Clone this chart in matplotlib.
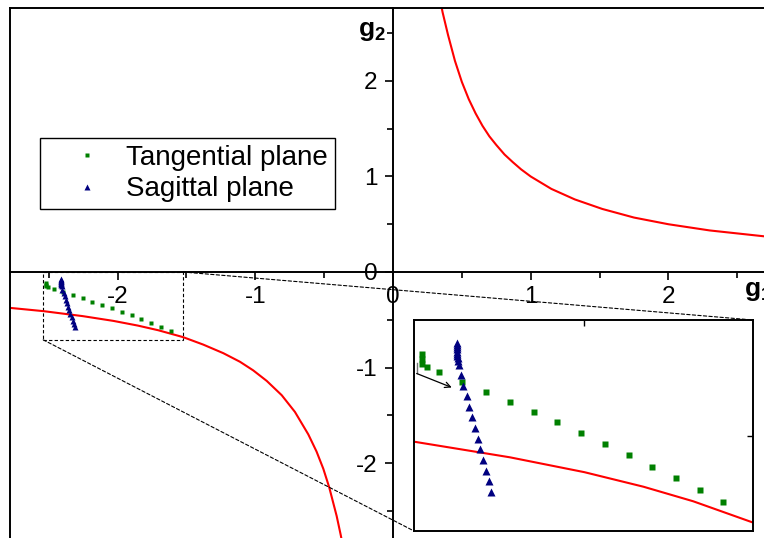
import matplotlib
matplotlib.use("Agg")
import matplotlib.pyplot as plt
from matplotlib.patches import Rectangle, ConnectionPatch
from matplotlib.ticker import MultipleLocator

plt.rcParams['font.family'] = ['Liberation Sans', 'DejaVu Sans']
plt.rcParams['mathtext.fontset'] = 'custom'
plt.rcParams['mathtext.rm'] = 'Liberation Sans'
plt.rcParams['mathtext.bf'] = 'Liberation Sans:bold'
plt.rcParams['axes.unicode_minus'] = False

# Stability boundary g1*g2 = 1, both branches
upper_g1 = [0.32, 0.34, 0.36, 0.40, 0.45, 0.50, 0.55, 0.60, 0.65, 0.70, 0.75,
            0.81, 0.87, 0.93, 1.0, 1.15, 1.32, 1.52, 1.75, 2.0, 2.3, 2.75]
upper_g2 = [3.05, 2.87, 2.72, 2.48, 2.21, 1.99, 1.81, 1.66, 1.53, 1.42, 1.33,
            1.23, 1.15, 1.075, 1.0, 0.87, 0.76, 0.66, 0.57, 0.50, 0.435, 0.365]
lower_g1 = [-2.80, -2.537, -2.253, -2.03, -1.853, -1.704, -1.524, -1.378, -1.232,
            -1.111, -1.015, -0.917, -0.808, -0.712, -0.615, -0.555, -0.506,
            -0.463, -0.409, -0.380, -0.365]
lower_g2 = [-0.373, -0.410, -0.462, -0.512, -0.561, -0.610, -0.682, -0.760, -0.850,
            -0.940, -1.030, -1.140, -1.290, -1.465, -1.700, -1.880, -2.060,
            -2.255, -2.555, -2.750, -2.86]

# Tangential plane
tan_g1 = [-2.517, -2.517, -2.517, -2.502, -2.465, -2.395, -2.324, -2.253, -2.182,
          -2.111, -2.040, -1.969, -1.897, -1.827, -1.756, -1.685, -1.615]
tan_g2 = [-0.115, -0.132, -0.148, -0.159, -0.176, -0.208, -0.241, -0.275, -0.309,
          -0.344, -0.380, -0.416, -0.455, -0.493, -0.532, -0.572, -0.614]

# Sagittal plane
sag_g1 = [-2.412, -2.412, -2.412, -2.412, -2.411, -2.411, -2.410, -2.409, -2.408,
          -2.406, -2.400, -2.392, -2.382, -2.374, -2.366, -2.357, -2.349, -2.342,
          -2.334, -2.324, -2.316, -2.309]
sag_g2 = [-0.078, -0.085, -0.092, -0.099, -0.106, -0.113, -0.120, -0.128, -0.137,
          -0.150, -0.185, -0.221, -0.256, -0.292, -0.328, -0.363, -0.400, -0.435,
          -0.471, -0.508, -0.543, -0.580]

zoom_x = (-2.54, -1.525)
zoom_y = (-0.71, 0.0)

GREEN = '#008000'
NAVY = '#000080'
RED = '#ff0000'

fig = plt.figure(figsize=(7.64, 5.38), dpi=100)
ax = fig.add_axes([10 / 764, 0, 754 / 764, 530 / 538])
ax.set_xlim(-2.781, 2.694)
ax.set_ylim(-2.785, 2.764)

ax.plot(upper_g1, upper_g2, color=RED, lw=1.5)
ax.plot(lower_g1, lower_g2, color=RED, lw=1.5)
h_tan, = ax.plot(tan_g1, tan_g2, 's', color=GREEN, ms=3.3, mec='none',
                 label='Tangential plane')
h_sag, = ax.plot(sag_g1, sag_g2, '^', color=NAVY, ms=4, mec='none',
                 label='Sagittal plane')

# axes through the origin, frame on left and top
ax.spines['left'].set_position(('data', 0))
ax.spines['bottom'].set_position(('data', 0))
ax.spines['right'].set_visible(False)
for s in ['left', 'bottom', 'top']:
    ax.spines[s].set_linewidth(1.4)
ax.plot([0, 0], [0, 1], transform=ax.transAxes, color='k', lw=1.4,
        clip_on=False)
ax.xaxis.set_ticks_position('bottom')
ax.yaxis.set_ticks_position('left')
ax.xaxis.set_major_locator(MultipleLocator(1))
ax.xaxis.set_minor_locator(MultipleLocator(0.5))
ax.yaxis.set_major_locator(MultipleLocator(1))
ax.yaxis.set_minor_locator(MultipleLocator(0.5))
ax.tick_params(which='major', direction='out', length=6, width=1.2,
               labelsize=17.5)
ax.tick_params(which='minor', direction='out', length=4, width=1.2)
ax.tick_params(axis='x', pad=4)
ax.tick_params(axis='y', pad=5)

ax.text(-0.05, 2.52, r'$\mathbf{g}_\mathbf{2}$', fontsize=19,
        ha='right', va='center')
ax.text(2.55, -0.2, r'$\mathbf{g}_\mathbf{1}$', fontsize=19,
        ha='left', va='center', clip_on=False)

# zoom box and connectors
ax.add_patch(Rectangle((zoom_x[0], zoom_y[0]), zoom_x[1] - zoom_x[0],
                       zoom_y[1] - zoom_y[0], fill=False, ec='k', lw=0.8,
                       ls=(0, (3, 2))))

axin = fig.add_axes([414 / 764, 1 - 531 / 538, 339 / 764, 211 / 538])
axin.set_xlim(*zoom_x)
axin.set_ylim(*zoom_y)
axin.plot(lower_g1, lower_g2, color=RED, lw=1.5)
axin.plot(tan_g1, tan_g2, 's', color=GREEN, ms=5, mec='none')
axin.plot(sag_g1, sag_g2, '^', color=NAVY, ms=6.3, mec='none')
for s in axin.spines.values():
    s.set_linewidth(1.4)
axin.set_xticks([-2.03])
axin.set_yticks([-0.39])
axin.xaxis.set_ticks_position('top')
axin.yaxis.set_ticks_position('right')
axin.tick_params(direction='in', length=4, width=1,
                 labeltop=False, labelright=False,
                 labelbottom=False, labelleft=False)
axin.plot([-2.532, -2.532], [-0.144, -0.180], color='0.45', lw=1)
axin.annotate('', xy=(-2.427, -0.227), xytext=(-2.532, -0.180),
              arrowprops=dict(arrowstyle='->', color='k', lw=0.9,
                              shrinkA=0, shrinkB=0))

for xy_main, xy_in in [((zoom_x[0], zoom_y[0]), (0, 0)),
                       ((zoom_x[1], zoom_y[1]), (1, 1))]:
    con = ConnectionPatch(xyA=xy_main, coordsA=ax.transData,
                          xyB=xy_in, coordsB=axin.transAxes,
                          color='k', lw=0.8, ls=(0, (3, 2)))
    fig.add_artist(con)

leg = ax.legend(handles=[h_tan, h_sag], loc='upper left',
                bbox_to_anchor=(40 / 764, 1 - 138 / 538),
                bbox_transform=fig.transFigure, borderaxespad=0,
                fontsize=20, handlelength=2.85, handletextpad=0.0,
                borderpad=0.25, labelspacing=0.2, fancybox=False,
                framealpha=1, edgecolor='k')
leg.get_frame().set_linewidth(1)

fig.savefig('out.png', dpi=100)
